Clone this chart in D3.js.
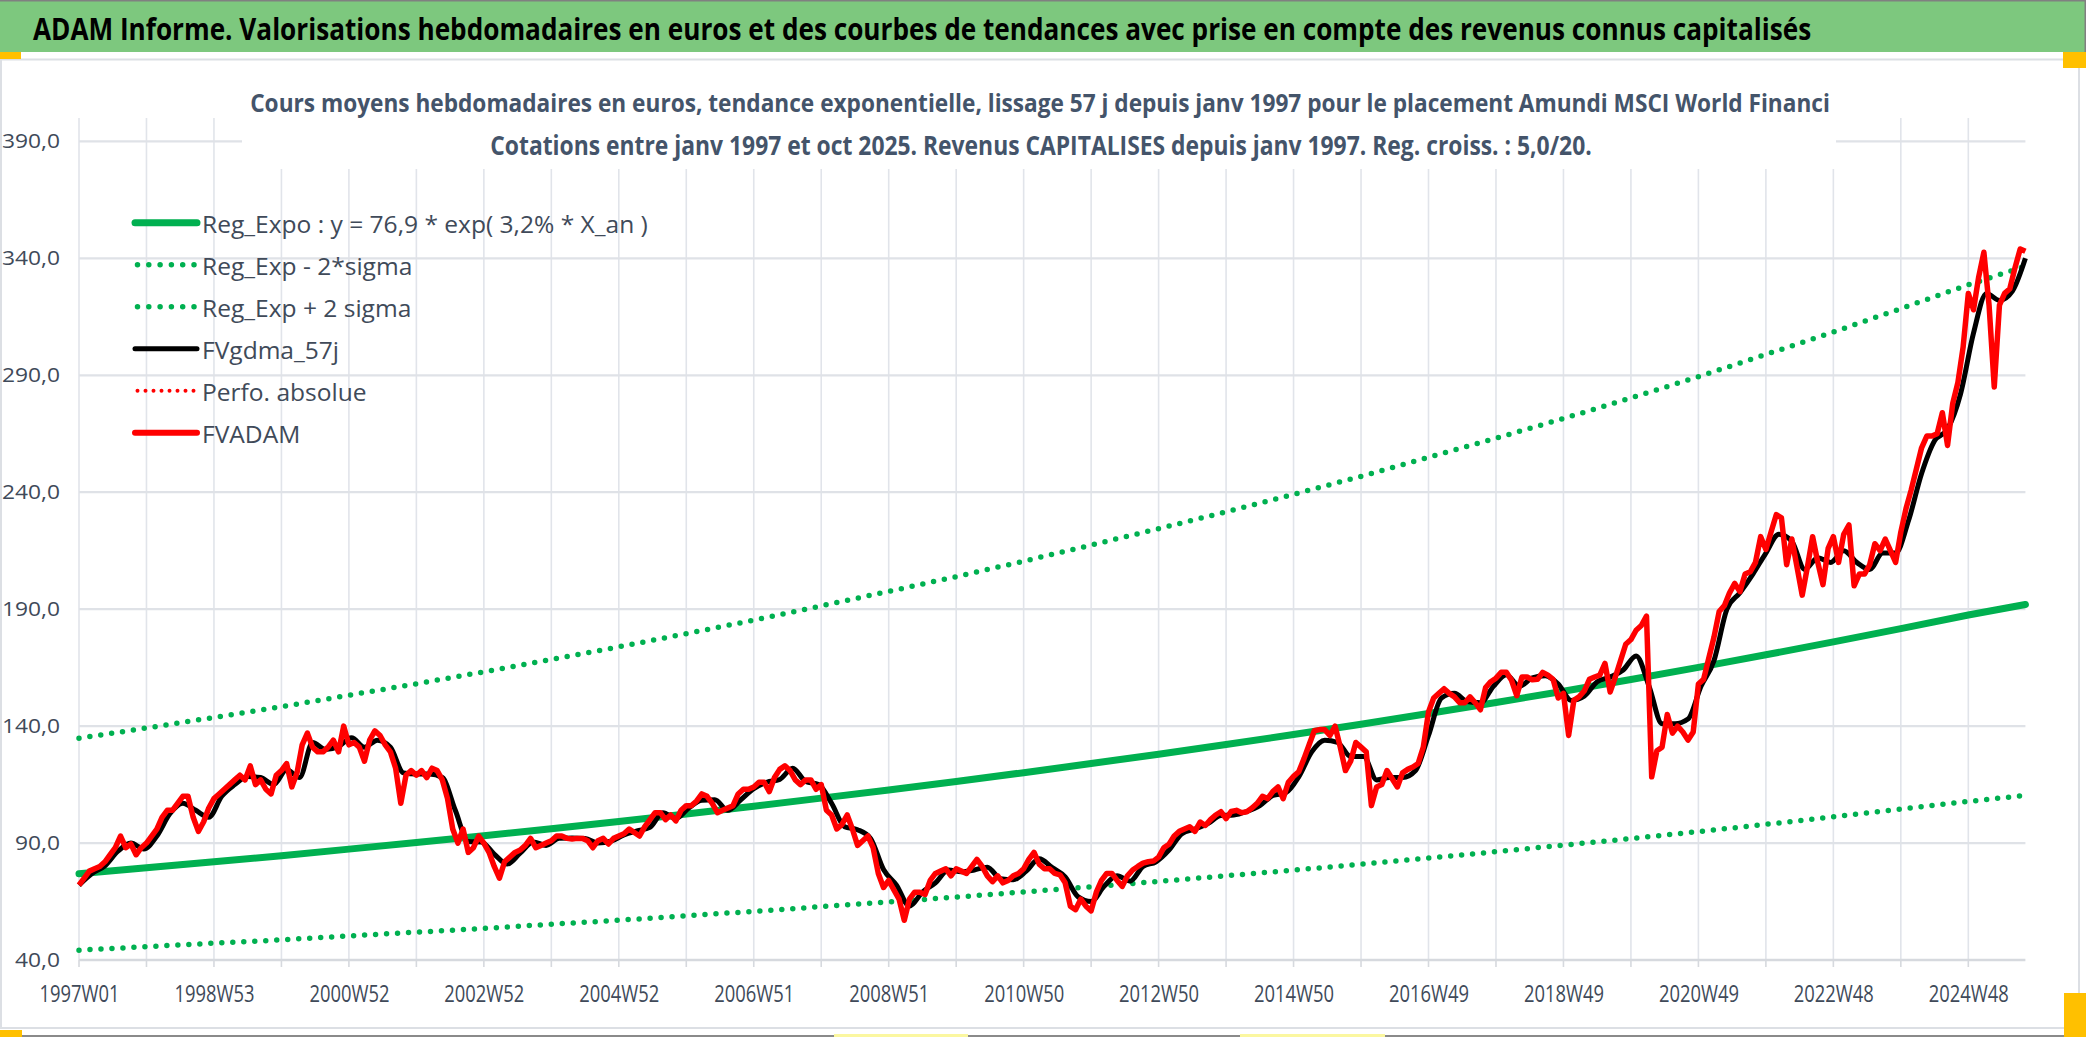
<!DOCTYPE html>
<html><head><meta charset="utf-8">
<script src="https://cdn.jsdelivr.net/npm/d3@7"></script>
<style>
html,body{margin:0;padding:0;background:#fff;overflow:hidden}
svg{display:block}
text{font-family:"Liberation Sans Narrow","Open Sans","DejaVu Sans Condensed",sans-serif}
</style></head><body>
<svg id="c" width="2086" height="1037"></svg>
<script>
// ---------- texts ----------
const mainTitle = "ADAM Informe. Valorisations hebdomadaires en euros et des courbes de tendances avec prise en compte des revenus connus capitalisés";
const subTitle1 = "Cours moyens hebdomadaires en euros, tendance exponentielle, lissage 57 j depuis janv 1997 pour le placement Amundi MSCI World Financi";
const subTitle2 = "Cotations entre janv 1997 et oct 2025. Revenus CAPITALISES depuis janv 1997. Reg. croiss. : 5,0/20.";
const legendLabels = ["Reg_Expo : y = 76,9 * exp( 3,2% *  X_an )","Reg_Exp - 2*sigma","Reg_Exp + 2 sigma","FVgdma_57j","Perfo. absolue","FVADAM"];

// ---------- axes ----------
const yTicks = [40,90,140,190,240,290,340,390];
const yDomain = [40,400];
const xTickLabels = ["1997W01","1998W53","2000W52","2002W52","2004W52","2006W51","2008W51","2010W50","2012W50","2014W50","2016W49","2018W49","2020W49","2022W48","2024W48"];
const weekCount = 1501; // 1997W01 .. 2025W40

// ---------- series ----------
// Regression curves, read at each yearly gridline (every 52 weeks) and at the last week
const regExpo = [76.9,79.4,82.0,84.6,87.4,90.2,93.1,96.1,99.2,102.4,105.7,109.2,112.7,116.3,120.1,124.0,128.0,132.1,136.4,140.8,145.4,150.1,154.9,159.9,165.1,170.5,176.0,181.7,187.5,192.0];
const regMinus2 = [44.2,45.7,47.2,48.6,50.3,51.9,53.5,55.3,57.0,58.9,60.8,62.8,64.8,66.9,69.1,71.3,73.6,76.0,78.4,81.0,83.6,86.3,89.1,91.9,94.9,98.0,101.2,104.5,107.8,110.4];
const regPlus2 = [134.8,139.2,143.7,148.3,153.2,158.1,163.2,168.5,173.9,179.5,185.3,191.4,197.6,203.9,210.5,217.4,224.4,231.6,239.1,246.8,254.9,263.1,271.5,280.3,289.4,298.9,308.5,318.5,328.7,336.6];

// FVADAM weekly price, read every 4th week
const fvadamStep = 4;
const fvadam = [
72,75,78,79,80,82,85,88,93,88,89.6,85,88,90,93,96,101,104,104,107,110,110,101,95,99,
105,109,111,113,115,117,119,117,123,115,117,113,111,119,121,124,114,120,132,137,131,129,129,131,134,
129,140,132,133,131,125,134,138,136,132,129,122,107,119,121,119,121,118,122,121,117,109,96,90,96,
86,88,93,90,86,80,75,82,84,86,87,89,92,88,89,90,91,93,93,92,91.7,92,92,91,88,
91,92,89.6,92,93,94,96,94.5,93,97,100,103,103,100,102,99.5,104,106,106,108,111,110,107,103,104,
105,106,111,113,113,114,116,116,112,118,121.5,123,121,117,115,117,117,113,115,104,102,96,98,102,96,
89,91,93,88,77,71,74,70,66,57,66,69,69,68,74,77,78,79,76,79,78,77,80,83,80,
76,73.5,76,73,74,76,77,79,83,86,81,79,79,77,76.4,73,63,61.5,66,63,61,69,74,77,77,
74,71.5,76,78.5,80,81.4,82,82.3,84,88,89.5,93,95,96,97,95,99,97.5,100,102,103.4,100.5,103.5,104,103,
103.4,105,107,110,109,112,114,109,116,118.5,120.5,126,132,138,138.5,138.5,136,140,131,121,125,133,131,129,106,
114,115,121,117.5,114,120,121.5,122.5,124,131,146,152,154,156,154,152.5,150,150,152.5,150,147,156.5,159,160.5,163,
163,159.6,153,161,161,159.8,160,163,161.8,160,152,154,136,151,152.5,155,160,161,161.8,166.8,154.6,161,168,175,177,
181,183,187,118.3,129.5,131,145,137,140,137.5,134,137.5,158,160,169,178,189,191.5,197,201,197.5,205,206,210,221,
215.5,223,230.4,229,209,220,208,196,208,221,210,200.5,216,221,210,222,226,200,205,205,209,218,215,220,215,
210,223,233,241,250,259,264,264,265,274,260,278,287,302,325,318,332,342.6,320,285,320,325,327,336,344,
343
];

// FVgdma_57j smoothed curve, read every 10th week
const fvgdmaStep = 10;
const fvgdma57 = [
72,77,80.3,86.5,90,87.5,93,102.5,107,104,101,110,115,118.5,118,115,121.3,118,133,130,
131.3,135,131,134,131,120,119.5,119.5,118,104,90.7,90.5,85.3,81,85.7,90.5,89,92,92.2,92,
90,90.8,93.5,95.2,96.7,103,100.5,105,108.3,108.5,104,108.5,113.3,116,117.2,122,116.3,115,107,97,
95.7,92,78.7,72,63,69,73,78.5,77.7,78.5,79.7,74.8,74.3,78,83.3,79.5,75.5,67,65,71.5,
76,73.7,80,82,87,94,96,98.3,101.8,102,103.5,106,110.3,111.5,118.3,129,134,133,127,127,
117,118,118,121,136,152,154,150.5,150,157,162,157,160.6,161.5,158,151,152.8,159,161,164,
170,157,141,141,143,157,168,190,197,205,214,222,219,207,212,210,215,210,207,214,
214,228,248,262,267,282,308,325,322,326,340
];

// ---------- helpers ----------
function isoWeekLabels(n){
  const out=[], day=864e5, start=Date.UTC(1996,11,30);
  for(let i=0;i<n;i++){
    const th=new Date(start+i*7*day+3*day);
    const y=th.getUTCFullYear();
    const doy=Math.floor((th.getTime()-Date.UTC(y,0,1))/day);
    out.push(y+"W"+String(Math.floor(doy/7)+1).padStart(2,"0"));
  }
  return out;
}
// text drawn at a given width: glyphs condensed horizontally (Calibri-like look)
function fitText(parent, str, x, y, target, size, opts){
  const g = parent.append("g").attr("transform",`translate(${x},${y})`);
  const t = g.append("text").attr("x",0).attr("y",0).attr("font-size",size).text(str);
  Object.entries(opts||{}).forEach(([k,v])=>t.attr(k,v));
  const w = t.node().getComputedTextLength();
  const f = target / w;
  t.attr("font-size", size*f);
  g.attr("transform",`translate(${x},${y}) scale(1,${1/f})`);
  return t;
}
const categories = isoWeekLabels(weekCount);
const trendIdx = d3.range(0,weekCount-44,52).concat([weekCount-1]);

const svg = d3.select("#c");
const W=2086,H=1037;
const plot = {l:79, r:2025.4, t:118, b:960};

const x = d3.scalePoint().domain(categories).range([plot.l, plot.r]);
const y = d3.scaleLinear().domain(yDomain).range([plot.b, plot.t]);

const textCol = "#404a59";
const gridCol = "#e1e4ea";

// background & frame
svg.append("rect").attr("width",W).attr("height",H).attr("fill","#fff");
svg.append("rect").attr("x",0).attr("y",0).attr("width",W).attr("height",52).attr("fill","#7dc87e");
svg.append("line").attr("x1",0).attr("x2",W).attr("y1",0.75).attr("y2",0.75).attr("stroke","#808080").attr("stroke-width",1.5);
svg.append("line").attr("x1",W-0.75).attr("x2",W-0.75).attr("y1",0).attr("y2",52).attr("stroke","#808080").attr("stroke-width",1.5);
svg.append("rect").attr("x",1).attr("y",59.5).attr("width",2078).attr("height",968.5)
   .attr("fill","none").attr("stroke","#dcdfe4").attr("stroke-width",2);
svg.append("line").attr("x1",0).attr("x2",W).attr("y1",1036).attr("y2",1036).attr("stroke","#8a8a8a").attr("stroke-width",2);
const orange = "#ffc000";
[[0,52,21,7],[2063,52,23,16],[2064,993,22,44],[0,1030,22,7]].forEach(b=>
  svg.append("rect").attr("x",b[0]).attr("y",b[1]).attr("width",b[2]).attr("height",b[3]).attr("fill",orange));
[[834,968],[1240,1385]].forEach(s=>
  svg.append("rect").attr("x",s[0]).attr("y",1034).attr("width",s[1]-s[0]).attr("height",3).attr("fill","#fbf7a0"));

// main title
fitText(svg, mainTitle, 33, 39.5, 1779, 31, {"font-weight":"bold","fill":"#000"});

// gridlines
const gx = svg.append("g");
categories.forEach((c,i)=>{ if(i%52===0){
  gx.append("line").attr("x1",x(c)).attr("x2",x(c)).attr("y1",plot.t).attr("y2",plot.b)
    .attr("stroke",gridCol).attr("stroke-width",1.6);
  gx.append("line").attr("x1",x(c)).attr("x2",x(c)).attr("y1",plot.b).attr("y2",plot.b+7)
    .attr("stroke","#d6d9de").attr("stroke-width",1.6);
}});
yTicks.forEach(v=>{
  svg.append("line").attr("x1",plot.l).attr("x2",plot.r).attr("y1",y(v)).attr("y2",y(v))
    .attr("stroke", v===40 ? "#d6d9de" : "#dfe2e7").attr("stroke-width", v===40?2.6:2.2);
});

// title box (hides gridlines)
svg.append("rect").attr("x",242).attr("y",100).attr("width",1594).attr("height",69).attr("fill","#fff");
fitText(svg, subTitle1, 1040, 112, 1580, 25.5, {"text-anchor":"middle","font-weight":"bold","fill":"#44546a"});
fitText(svg, subTitle2, 1041, 155, 1102, 26, {"text-anchor":"middle","font-weight":"bold","fill":"#44546a"});

// axes labels
const yAxis = svg.append("g").attr("transform",`translate(${plot.l},0)`)
  .call(d3.axisLeft(y).tickValues(yTicks).tickSize(0).tickPadding(19)
    .tickFormat(d=>d3.format(".1f")(d).replace(".",",")));
yAxis.select(".domain").remove();
yAxis.selectAll("text").attr("font-size",20).attr("fill",textCol).attr("font-family",null);
{
  const nat = yAxis.select("text").node().getComputedTextLength();
  const f = 45/nat;
  yAxis.selectAll("text").each(function(){ const w=this.getComputedTextLength(); d3.select(this).attr("textLength",w*f).attr("lengthAdjust","spacingAndGlyphs"); });
}
const xAxis = svg.append("g").attr("transform",`translate(0,${plot.b})`)
  .call(d3.axisBottom(x).tickValues(xTickLabels).tickSize(0));
xAxis.select(".domain").remove();
xAxis.selectAll("text").attr("font-size",23).attr("fill",textCol).attr("y",41.5).attr("dy",0).attr("font-family",null);
{
  const nat = xAxis.select("text").node().getComputedTextLength();
  const f = 80/nat;
  xAxis.selectAll("text").each(function(){ const w=this.getComputedTextLength(); d3.select(this).attr("textLength",w*f).attr("lengthAdjust","spacingAndGlyphs"); });
}

// series
const green = "#00b050", red = "#ff0000";
const line = d3.line().x(d=>x(d[0])).y(d=>y(d[1]));
const trendPts = arr => arr.map((v,k)=>[categories[trendIdx[k]], v]);
const dotted = {"stroke-dasharray":"0 11","stroke-linecap":"round"};

function addPath(data, stroke, width, extra, gen){
  const p = svg.append("path").datum(data).attr("fill","none").attr("stroke",stroke)
    .attr("stroke-width",width).attr("stroke-linejoin","round").attr("d",(gen||line));
  if(extra) Object.entries(extra).forEach(([k,v])=>p.attr(k,v));
  return p;
}
addPath(trendPts(regExpo), green, 7, {"stroke-linecap":"round"});
addPath(trendPts(regMinus2), green, 5.5, dotted);
addPath(trendPts(regPlus2), green, 5.5, dotted);
const blackPts = fvgdma57.map((v,k)=>[categories[Math.min(k*fvgdmaStep, weekCount-1)], v]);
addPath(blackPts, "#000", 5, null, d3.line().x(d=>x(d[0])).y(d=>y(d[1])).curve(d3.curveMonotoneX));
const redPts = fvadam.map((v,k)=>[categories[Math.min(k*fvadamStep, weekCount-1)], v]);
addPath(redPts, red, 5.5);

// legend
const leg = svg.append("g");
const legStyles = [
  {c:green,w:7,d:null},{c:green,w:5.5,d:"0 11.3"},{c:green,w:5.5,d:"0 11.3"},
  {c:"#000",w:5,d:null},{c:red,w:4,d:"0 8"},{c:red,w:6,d:null}
];
const legNat = (()=>{ const t=leg.append("text").attr("font-size",23).text(legendLabels[0]); const w=t.node().getComputedTextLength(); t.remove(); return w; })();
const legF = 446/legNat;
legendLabels.forEach((lab,r)=>{
  const base = 232.7 + r*42;
  const st = legStyles[r];
  const ln = leg.append("line").attr("x1", st.d?137.5:135).attr("x2", st.d?195:197).attr("y1",base-10).attr("y2",base-10)
    .attr("stroke",st.c).attr("stroke-width",st.w).attr("stroke-linecap","round");
  if(st.d) ln.attr("stroke-dasharray",st.d);
  const tmp = leg.append("text").attr("font-size",23).text(lab);
  const w = tmp.node().getComputedTextLength(); tmp.remove();
  fitText(leg, lab, 202, base, w*legF, 23, {"fill":textCol});
});
</script>
</body></html>
